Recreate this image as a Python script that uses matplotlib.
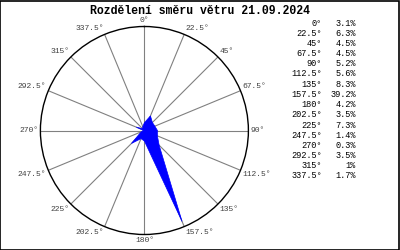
import numpy as np
import matplotlib
matplotlib.use('Agg')
import matplotlib.pyplot as plt
from matplotlib.patches import Rectangle

# wind direction share, 21.09.2024
directions = [0, 22.5, 45, 67.5, 90, 112.5, 135, 157.5,
              180, 202.5, 225, 247.5, 270, 292.5, 315, 337.5]
dir_labels = ['0', '22.5', '45', '67.5', '90', '112.5', '135', '157.5',
              '180', '202.5', '225', '247.5', '270', '292.5', '315', '337.5']
shares = [3.1, 6.3, 4.5, 4.5, 5.2, 5.6, 8.3, 39.2,
          4.2, 3.5, 7.3, 1.4, 0.3, 3.5, 1, 1.7]
share_labels = ['3.1%', '6.3%', '4.5%', '4.5%', '5.2%', '5.6%', '8.3%', '39.2%',
                '4.2%', '3.5%', '7.3%', '1.4%', '0.3%', '3.5%', '1%', '1.7%']
title = 'Rozdělení směru větru 21.09.2024'

mono = ['Liberation Mono', 'DejaVu Sans Mono']
rmax = 41.4

fig = plt.figure(figsize=(4, 2.5), dpi=100)
fig.patch.set_facecolor('white')

ax = fig.add_axes([0.101, 0.062, 0.52, 0.832], projection='polar')
ax.set_theta_zero_location('N')
ax.set_theta_direction(-1)

theta = np.deg2rad(directions + [directions[0]])
r = shares + [shares[0]]
ax.fill(theta, r, color='#0000ff', linewidth=0.5, edgecolor='#0000ff', zorder=3)

ax.set_ylim(0, rmax)
ax.set_yticks([])
ax.yaxis.grid(False)
ax.set_xticks(np.deg2rad(directions))
ax.set_xticklabels([])
ax.xaxis.grid(True, color='#808080', linewidth=0.8)
ax.tick_params(axis='x', length=0)
ax.spines['polar'].set_color('black')
ax.spines['polar'].set_linewidth(1.0)

# direction labels at the end of each spoke
for d, lab in zip(directions, dir_labels):
    a = np.deg2rad(d)
    s, c = np.sin(a), np.cos(a)
    ha = 'left' if s > 0.1 else ('right' if s < -0.1 else 'center')
    va = 'bottom' if c > 0.3 else ('top' if c < -0.3 else 'center')
    ax.annotate(lab + '°', xy=(a, rmax), xytext=(1.5 * s, 1.5 * c),
                textcoords='offset points', ha=ha, va=va,
                fontsize=5.8, family=mono, color='#404040', annotation_clip=False)

fig.text(0.5, 0.958, title, ha='center', va='center', fontsize=8.3,
         fontweight='bold', family=mono)

# table on the right
y0 = 1 - 23 / 250
dy = 10.2 / 250
for i, (d, s) in enumerate(zip(dir_labels, share_labels)):
    y = y0 - i * dy
    fig.text(322 / 400, y, d + '°', ha='right', va='center', fontsize=6.2, family=mono)
    fig.text(356 / 400, y, s, ha='right', va='center', fontsize=6.2, family=mono)

fig.patches.append(Rectangle((0.001, 0.002), 0.997, 0.995, transform=fig.transFigure,
                             fill=False, edgecolor='black', linewidth=1.2))

fig.savefig('out.png', dpi=100)
